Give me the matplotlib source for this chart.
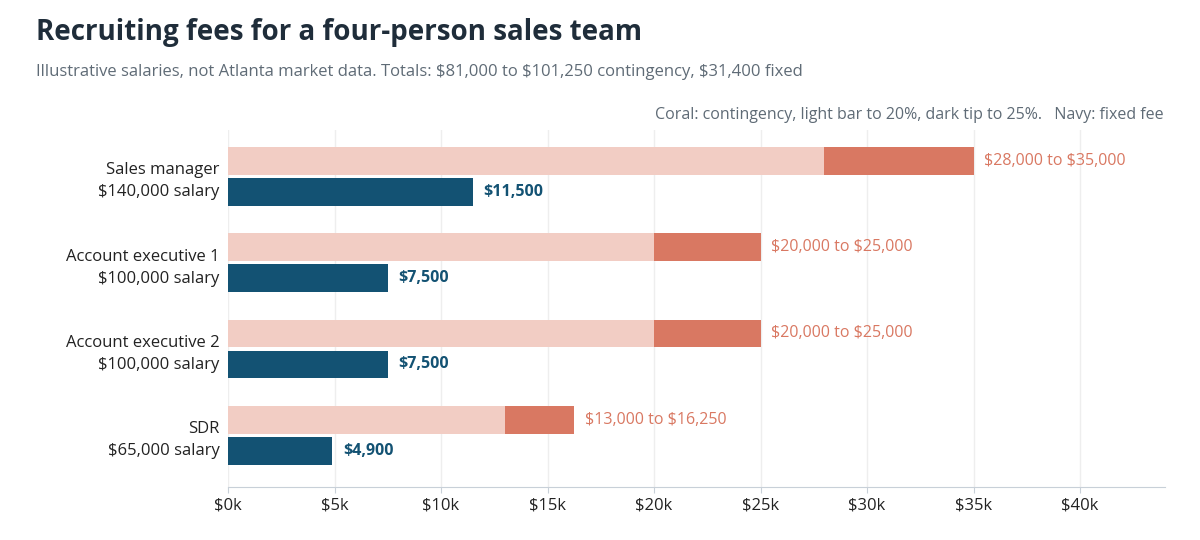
import numpy as np
import matplotlib.pyplot as plt

plt.rcParams['font.family'] = ['Open Sans', 'DejaVu Sans']
plt.rcParams['text.parse_math'] = False

roles = ["Sales manager", "Account executive 1", "Account executive 2", "SDR"]
salaries = [140000, 100000, 100000, 65000]
cont_low = [28000, 20000, 20000, 13000]
cont_high = [35000, 25000, 25000, 16250]
fixed = [11500, 7500, 7500, 4900]

coral_light = "#f2cdc4"
coral = "#d97862"
navy = "#135273"

fig = plt.figure(figsize=(12, 5.4), dpi=100)
ax = fig.add_axes([0.19, 0.098, 0.781, 0.662])

y = np.arange(len(roles)) * 1.0
h = 0.32
off = 0.18
for i in range(len(roles)):
    yc = y[i] - off
    yf = y[i] + off
    ax.barh(yc, cont_low[i], height=h, color=coral_light)
    ax.barh(yc, cont_high[i] - cont_low[i], left=cont_low[i], height=h, color=coral)
    ax.text(cont_high[i] + 500, yc, f"${cont_low[i]:,} to ${cont_high[i]:,}",
            va='center', ha='left', color=coral, fontsize=11.5)
    ax.barh(yf, fixed[i], height=h, color=navy)
    ax.text(fixed[i] + 500, yf, f"${fixed[i]:,}", va='center', ha='left',
            color=navy, fontsize=11.5, fontweight='bold')

ax.set_yticks(y)
ax.set_yticklabels([f"{r}\n${s:,} salary" for r, s in zip(roles, salaries)],
                   fontsize=12, color="#222222", linespacing=1.5)
ax.set_ylim(3.6, -0.54)
ax.set_xlim(0, 44000)
ticks = np.arange(0, 45000, 5000)
ax.set_xticks(ticks)
ax.set_xticklabels(["$0k"] + [f"${t//1000}k" for t in ticks[1:]], fontsize=12, color="#222222")
ax.tick_params(axis='y', length=0, pad=6)
ax.tick_params(axis='x', length=4, color="#c8d0d8")
ax.grid(axis='x', color="#eeeeee", linewidth=1)
ax.set_axisbelow(True)
for s in ['top', 'right', 'left']:
    ax.spines[s].set_visible(False)
ax.spines['bottom'].set_color("#c8d0d8")

fig.text(0.03, 0.94, "Recruiting fees for a four-person sales team", fontsize=20,
         fontweight='bold', color="#1f2d3a", va='center')
fig.text(0.03, 0.867, "Illustrative salaries, not Atlanta market data. Totals: $81,000 to $101,250 contingency, $31,400 fixed",
         fontsize=12, color="#5f6b76", va='center')
fig.text(0.97, 0.787, "Coral: contingency, light bar to 20%, dark tip to 25%.   Navy: fixed fee",
         fontsize=11.5, color="#5f6b76", va='center', ha='right')

fig.savefig("out.png", dpi=100)
